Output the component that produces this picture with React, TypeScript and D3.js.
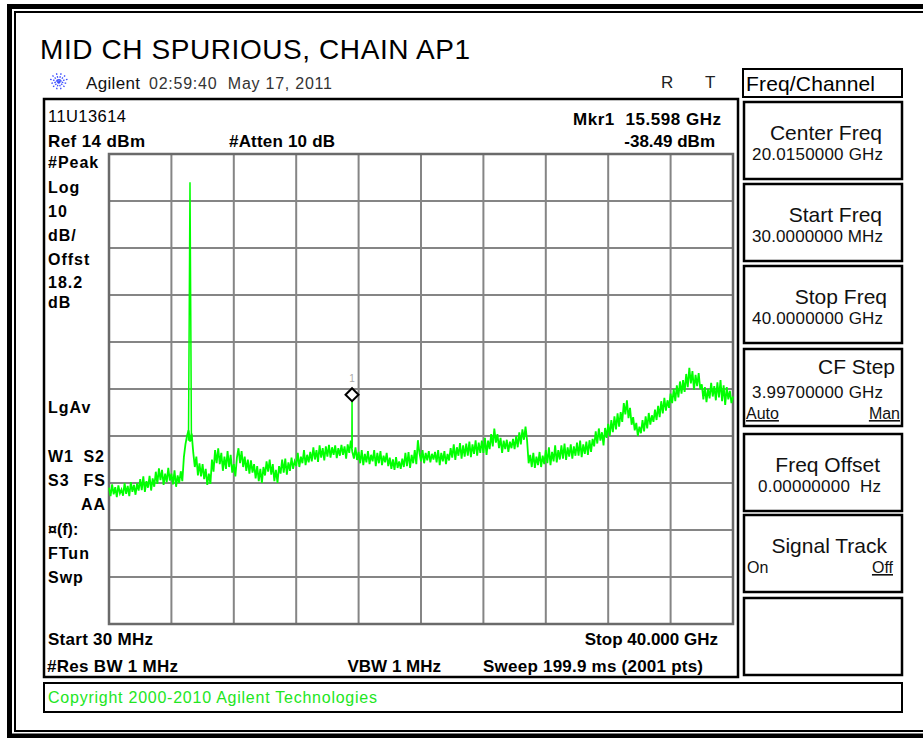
import React from "react";
import * as d3 from "d3";

// ---------- data ----------
const startGHz = 0.03;
const stopGHz = 40.0;
const refDbm = 14;
const dbPerDiv = 10;
const divisions = 10;

// Trace (dBm), evenly spaced sweep points from start to stop
const traceDbm = [
  -57.0, -58.8, -56.3, -58.4, -56.9, -59.0, -56.5, -58.2, -57.4, -58.7,
  -56.0, -58.3, -56.6, -58.8, -55.8, -57.9, -56.4, -58.5, -56.1, -57.6,
  -55.2, -57.5, -54.6, -57.9, -55.6, -57.0, -54.5, -57.6, -55.0, -56.8,
  -53.6, -56.2, -52.9, -55.4, -53.2, -56.4, -54.0, -55.8, -52.8, -55.5,
  -54.0, -56.3, -53.3, -56.8, -54.4, -56.0, -53.5, -55.6, -50.5, -47.8,
  -46.0, -44.8, -47.2, -45.5, -49.5, -52.6, -50.4, -54.4, -51.8, -54.6,
  -52.0, -55.2, -53.0, -56.4, -54.0, -56.2, -51.0, -53.6, -49.0, -51.8,
  -48.6, -52.0, -49.6, -53.4, -50.4, -53.0, -49.2, -52.6, -50.0, -53.8,
  -52.0, -54.6, -50.6, -48.6, -51.8, -49.2, -52.6, -50.4, -53.4, -51.0,
  -54.0, -51.2, -53.8, -52.0, -55.0, -52.4, -55.6, -53.0, -56.0, -52.6,
  -54.4, -51.4, -53.6, -51.0, -54.2, -52.0, -55.6, -53.2, -56.0, -52.4,
  -54.0, -51.0, -53.8, -50.8, -54.2, -51.6, -53.4, -50.6, -53.0, -51.4,
  -52.4, -49.6, -52.6, -50.4, -51.8, -49.0, -52.2, -50.0, -51.6, -49.4,
  -51.4, -48.4, -51.0, -49.0, -51.5, -48.0, -50.6, -48.6, -51.2, -48.2,
  -50.4, -47.9, -50.6, -48.4, -50.0, -48.0, -50.7, -48.6, -50.2, -47.9,
  -50.0, -48.2, -50.8, -47.8, -49.6, -47.0, -49.4, -50.8, -48.4, -51.1,
  -49.4, -51.8, -49.0, -52.2, -49.8, -51.6, -49.2, -52.0, -50.0, -51.4,
  -49.0, -52.4, -49.6, -51.8, -49.2, -52.2, -50.2, -51.6, -49.6, -52.4,
  -50.6, -53.0, -51.0, -53.2, -50.5, -52.8, -51.4, -53.0, -50.8, -52.6,
  -49.6, -52.4, -49.4, -52.8, -50.0, -51.8, -49.0, -52.0, -46.9, -49.6,
  -51.4, -49.0, -51.8, -49.6, -51.2, -49.2, -51.6, -49.8, -51.0, -49.4,
  -51.6, -49.0, -52.2, -49.6, -51.4, -49.2, -52.0, -49.8, -51.2, -48.6,
  -50.6, -47.8, -51.1, -48.4, -50.2, -47.5, -50.8, -48.0, -50.4, -47.6,
  -50.2, -47.2, -50.5, -47.8, -49.8, -46.9, -50.2, -47.4, -49.6, -47.0,
  -49.6, -46.4, -50.0, -47.0, -48.8, -45.6, -48.2, -44.4, -47.4, -45.6,
  -48.6, -46.4, -49.6, -47.0, -48.8, -46.8, -49.4, -47.2, -48.6, -46.6,
  -48.8, -46.0, -48.4, -45.2, -47.8, -44.6, -46.8, -44.0, -47.0, -51.8,
  -50.0, -52.6, -49.6, -52.8, -50.4, -52.2, -49.4, -52.6, -50.2, -52.0,
  -49.0, -51.8, -48.4, -52.2, -49.4, -51.4, -48.0, -51.6, -49.0, -51.0,
  -48.0, -50.8, -47.6, -51.1, -48.4, -50.4, -47.8, -50.8, -48.2, -50.2,
  -47.4, -50.2, -47.0, -50.5, -47.8, -49.8, -47.2, -50.0, -46.9, -49.4,
  -46.6, -48.2, -45.0, -47.6, -44.4, -47.0, -45.2, -48.0, -44.3, -46.4,
  -43.4, -46.0, -42.6, -45.2, -41.8, -44.6, -41.2, -44.0, -40.9, -43.0,
  -39.0, -41.4, -38.4, -42.2, -40.0, -43.6, -42.0, -44.8, -43.2, -46.0,
  -44.0, -45.4, -42.6, -45.0, -41.8, -44.4, -41.1, -43.6, -41.6, -43.0,
  -40.4, -42.6, -39.6, -42.0, -38.6, -41.2, -37.9, -40.6, -38.4, -40.0,
  -37.0, -39.0, -36.0, -38.6, -35.2, -37.8, -34.4, -37.0, -34.1, -36.6,
  -32.8, -35.6, -31.5, -34.8, -32.2, -36.2, -33.0, -35.4, -32.6, -36.0,
  -35.0, -38.2, -35.6, -38.8, -36.0, -38.0, -34.7, -37.6, -35.4, -38.4,
  -34.6, -37.8, -34.1, -38.6, -35.2, -39.4, -35.6, -38.2, -36.4, -39.0,
  -37.6,
];

// Narrow spurs
const spurAGHz = [5.12, 5.17, 5.218, 5.265, 5.31];
const spurADbm = [-47.0, -19.5, 8.0, -19.0, -47.0];
const spurBGHz = [15.585, 15.598, 15.611];
const spurBDbm = [-48.0, -38.49, -48.5];

const markerGHz = 15.598;
const markerDbm = -38.49;

const leftColumnLabels = ["#Peak", "Log", "10", "dB/", "Offst", "18.2", "dB", "LgAv"];
const softkeyLabels = ["Center Freq", "Start Freq", "Stop Freq", "CF Step", "Freq Offset", "Signal Track", ""];
const softkeyValues = ["20.0150000 GHz", "30.0000000 MHz", "40.0000000 GHz", "3.99700000 GHz", "0.00000000  Hz", "", ""];

// ---------- layout ----------
const W = 923;
const H = 738;
const GX0 = 109, GX1 = 733, GY0 = 154, GY1 = 624;
const FONT = "'Liberation Sans', Arial, Helvetica, sans-serif";

type TP = {
  x: number; y: number; children: React.ReactNode; size?: number; weight?: string | number;
  anchor?: "start" | "middle" | "end"; fill?: string; len?: number; ls?: number; underline?: boolean;
};
function T({ x, y, children, size = 16, weight = "normal", anchor = "start", fill = "#000", len, ls, underline }: TP) {
  return (
    <text
      x={x}
      y={y}
      fontFamily={FONT}
      fontSize={size}
      fontWeight={weight}
      textAnchor={anchor}
      fill={fill}
      textLength={len}
      lengthAdjust={len ? "spacing" : undefined}
      letterSpacing={ls}
      style={{ whiteSpace: "pre", textDecoration: underline ? "underline" : undefined }}
    >
      {children}
    </text>
  );
}

export default function App() {
  const x = d3.scaleLinear().domain([startGHz, stopGHz]).range([GX0, GX1]);
  const y = d3.scaleLinear().domain([refDbm - dbPerDiv * divisions, refDbm]).range([GY1, GY0]);

  const n = traceDbm.length;
  const step = (stopGHz - startGHz) / (n - 1);
  const line = d3
    .line<[number, number]>()
    .x((d) => x(d[0]))
    .y((d) => y(d[1]));
  const tracePts: [number, number][] = traceDbm.map((v, i) => [startGHz + i * step, v]);
  const spurA: [number, number][] = spurAGHz.map((f, i) => [f, spurADbm[i]]);
  const spurB: [number, number][] = spurBGHz.map((f, i) => [f, spurBDbm[i]]);

  const vLines = d3.range(divisions + 1).map((i) => x(startGHz + (i * (stopGHz - startGHz)) / divisions));
  const hLines = d3.range(divisions + 1).map((i) => y(refDbm - i * dbPerDiv));

  const mx = x(markerGHz);
  const my = y(markerDbm) - 6;
  const dm = 6.5;

  const leftY = [168.3, 192.7, 216.7, 240.7, 265, 287.7, 308.3, 413.3];
  const keyTops = [102, 184, 266, 349, 434, 515, 598];
  const keyH = 77;
  const labelEnds = [882, 882, 887, 895, 880, 887, 0];

  const star = d3.range(6).map((k) => (k * Math.PI) / 6 + Math.PI / 12);

  return (
    <svg
      width={W}
      height={H}
      viewBox={`0 0 ${W} ${H}`}
      style={{ position: "absolute", left: 0, top: 0, display: "block", background: "#fff" }}
    >
      <rect x={0} y={0} width={W} height={H} fill="#fff" />
      {/* outer frame */}
      <rect x={9.5} y={6.5} width={930} height={729.5} fill="none" stroke="#000" strokeWidth={5} />
      <rect x={15} y={12} width={920} height={719} fill="none" stroke="#000" strokeWidth={2} />

      {/* title */}
      <T x={40} y={59} size={28} len={430}>MID CH SPURIOUS, CHAIN AP1</T>

      {/* star icon */}
      <g stroke="#3a4dff" strokeWidth={1.3} strokeDasharray="1.6 1.4">
        {star.map((a, i) => (
          <line key={i} x1={58.8 - Math.cos(a) * 9} y1={81.5 - Math.sin(a) * 8.5} x2={58.8 + Math.cos(a) * 9} y2={81.5 + Math.sin(a) * 8.5} />
        ))}
      </g>
      <T x={86} y={89} size={17} fill="#111" len={54}>Agilent</T>
      <T x={149} y={89} size={16} fill="#333" len={183}>02:59:40  May 17, 2011</T>
      <T x={661} y={88} size={17} fill="#222">R</T>
      <T x={705} y={88} size={17} fill="#222">T</T>

      {/* Freq/Channel title box */}
      <rect x={743} y={69} width={159} height={28} fill="#fff" stroke="#000" strokeWidth={2} />
      <T x={746} y={91} size={21} len={129}>Freq/Channel</T>

      {/* main display panel */}
      <rect x={44} y={99} width={694} height={578} fill="#fff" stroke="#000" strokeWidth={2.5} />

      <T x={48} y={122} size={16.5} len={78}>11U13614</T>
      <T x={48} y={146.5} size={17} weight="bold" len={97}>Ref 14 dBm</T>
      <T x={229} y={146.5} size={17} weight="bold" len={106}>#Atten 10 dB</T>
      <T x={573} y={125} size={17} weight="bold" len={148}>Mkr1  15.598 GHz</T>
      <T x={715} y={146.5} size={17} weight="bold" anchor="end">-38.49 dBm</T>

      {leftColumnLabels.map((s, i) => (
        <T key={s + i} x={48} y={leftY[i]} size={16} weight="bold" ls={1}>{s}</T>
      ))}
      <T x={48} y={461.7} size={16} weight="bold" ls={1}>W1</T>
      <T x={105} y={461.7} size={16} weight="bold" anchor="end" ls={1}>S2</T>
      <T x={48} y={485.7} size={16} weight="bold" ls={1}>S3</T>
      <T x={106} y={485.7} size={16} weight="bold" anchor="end" ls={1}>FS</T>
      <T x={106} y={510} size={16} weight="bold" anchor="end" ls={1}>AA</T>
      <T x={48} y={535} size={16} weight="bold">¤(f):</T>
      <T x={48} y={559} size={16} weight="bold" ls={1}>FTun</T>
      <T x={48} y={583} size={16} weight="bold" ls={1}>Swp</T>

      {/* graticule */}
      <g stroke="#858585" strokeWidth={2}>
        {vLines.map((vx, i) => (
          <line key={"v" + i} x1={vx} x2={vx} y1={GY0} y2={GY1} />
        ))}
        {hLines.map((hy, i) => (
          <line key={"h" + i} x1={GX0} x2={GX1} y1={hy} y2={hy} />
        ))}
      </g>
      <rect x={GX0} y={GY0} width={GX1 - GX0} height={GY1 - GY0} fill="none" stroke="#6a6a6a" strokeWidth={2.5} />

      {/* trace */}
      <g fill="none" stroke="#00ff00" strokeWidth={1.8} strokeLinejoin="miter">
        <path d={line(tracePts) || ""} />
        <path d={line(spurA) || ""} strokeWidth={1.5} />
        <path d={line(spurB) || ""} strokeWidth={1.5} />
      </g>

      {/* marker */}
      <path
        d={`M${mx},${my - dm} L${mx + dm},${my} L${mx},${my + dm} L${mx - dm},${my} Z`}
        fill="#fff"
        stroke="#000"
        strokeWidth={2}
      />
      <T x={mx} y={382} size={10} fill="#aaa" anchor="middle">1</T>

      {/* bottom annotations */}
      <T x={48} y={645} size={17} weight="bold" len={105}>Start 30 MHz</T>
      <T x={718} y={645} size={17} weight="bold" anchor="end">Stop 40.000 GHz</T>
      <T x={47} y={671.5} size={17} weight="bold" len={131}>#Res BW 1 MHz</T>
      <T x={441} y={671.5} size={17} weight="bold" anchor="end">VBW 1 MHz</T>
      <T x={483} y={671.5} size={17} weight="bold" len={220}>Sweep 199.9 ms (2001 pts)</T>

      {/* copyright box */}
      <rect x={44} y={683} width={858} height={29} fill="#fff" stroke="#000" strokeWidth={2} />
      <T x={48} y={703} size={16} fill="#22e622" len={329}>Copyright 2000-2010 Agilent Technologies</T>

      {/* softkeys */}
      {keyTops.map((t, i) => (
        <g key={"k" + i}>
          <rect x={744} y={t} width={158} height={keyH} fill="#fff" stroke="#000" strokeWidth={2.5} />
          {softkeyLabels[i] && i !== 3 && (
            <T x={labelEnds[i]} y={t + 37.5} size={21} anchor="end" fill="#111">{softkeyLabels[i]}</T>
          )}
          {softkeyLabels[i] && i === 3 && (
            <T x={labelEnds[i]} y={t + 25} size={21} anchor="end" fill="#111">{softkeyLabels[i]}</T>
          )}
          {softkeyValues[i] && (
            <T x={i === 4 ? 758 : 752} y={i === 3 ? t + 49 : t + 58} size={17} fill="#111" len={i === 4 ? 123 : 131}>
              {softkeyValues[i]}
            </T>
          )}
        </g>
      ))}
      <T x={746} y={419} size={16} fill="#111" underline>Auto</T>
      <T x={900} y={419} size={16} fill="#111" anchor="end" underline>Man</T>
      <T x={747} y={573} size={16} fill="#111">On</T>
      <T x={893} y={573} size={16} fill="#111" anchor="end" underline>Off</T>
    </svg>
  );
}
